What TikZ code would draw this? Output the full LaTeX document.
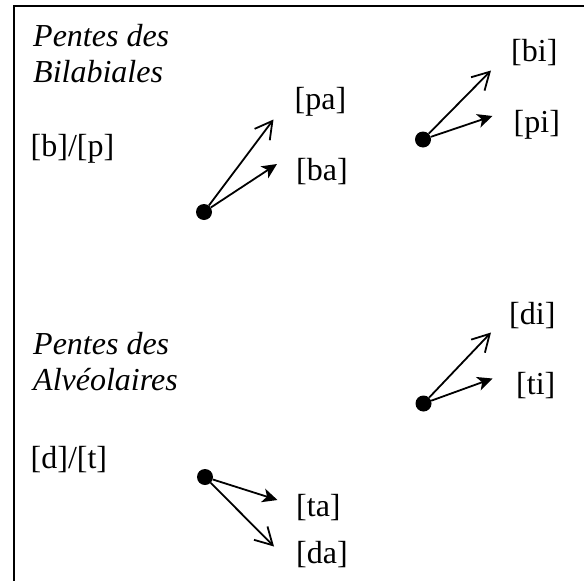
\documentclass[tikz,border=0pt]{standalone}
\usepackage{fontspec}
\setmainfont{Liberation Serif}
\usetikzlibrary{arrows.meta}
\begin{document}
\begin{tikzpicture}[x=1pt,y=-1pt,
  lbl/.style={anchor=base west,inner sep=0pt,font=\fontsize{32}{36}\selectfont},
  title/.style={lbl,font=\fontsize{32}{36}\selectfont\itshape},
  origin/.style={circle,fill=black,minimum size=16pt,inner sep=0pt},
  openarr/.style={line width=1.8pt,-{Straight Barb[length=17pt,width=19pt]}},
  fillarr/.style={line width=1.8pt,-{Stealth[length=15pt,width=14pt,inset=4pt]}}]
\useasboundingbox (0,0) rectangle (584,581);
% frame
\draw[line width=2pt] (584,6.3) -- (13.7,6.3) -- (13.7,581);

% bilabials
\node[title] (t1a) at (33,46.5) {Pentes des};
\node[title] (t1b) at (33,82.5) {Bilabiales};
\node[lbl] (bp) at (30.5,156) {[b]/[p]};

\node[origin] (oa) at (204,212) {};
\coordinate (tpa) at (273.5,119.5);
\coordinate (tba) at (277,164);
\draw[openarr] (oa) -- (tpa);
\draw[fillarr] (oa) -- (tba);
\node[lbl] (pa) at (294.5,109.5) {[pa]};
\node[lbl] (ba) at (296,180) {[ba]};

\node[origin] (ob) at (423,139.5) {};
\coordinate (tbi) at (491,70.5);
\coordinate (tpi) at (492.5,116);
\draw[openarr] (ob) -- (tbi);
\draw[fillarr] (ob) -- (tpi);
\node[lbl] (bi) at (511,61) {[bi]};
\node[lbl] (pi) at (513.5,132) {[pi]};

% alveolars
\node[title] (t2a) at (33,354) {Pentes des};
\node[title] (t2b) at (33,390) {Alvéolaires};
\node[lbl] (dt) at (30.5,468) {[d]/[t]};

\node[origin] (oc) at (205,477) {};
\coordinate (tta) at (277.5,500);
\coordinate (tda) at (274,546.5);
\draw[fillarr] (oc) -- (tta);
\draw[openarr] (oc) -- (tda);
\node[lbl] (ta) at (296,516.4) {[ta]};
\node[lbl] (da) at (296,563) {[da]};

\node[origin] (od) at (423.5,403.5) {};
\coordinate (tdi) at (491,332.5);
\coordinate (tti) at (492.5,378.5);
\draw[openarr] (od) -- (tdi);
\draw[fillarr] (od) -- (tti);
\node[lbl] (di) at (509,324) {[di]};
\node[lbl] (ti) at (516,394.7) {[ti]};
\end{tikzpicture}
\end{document}
